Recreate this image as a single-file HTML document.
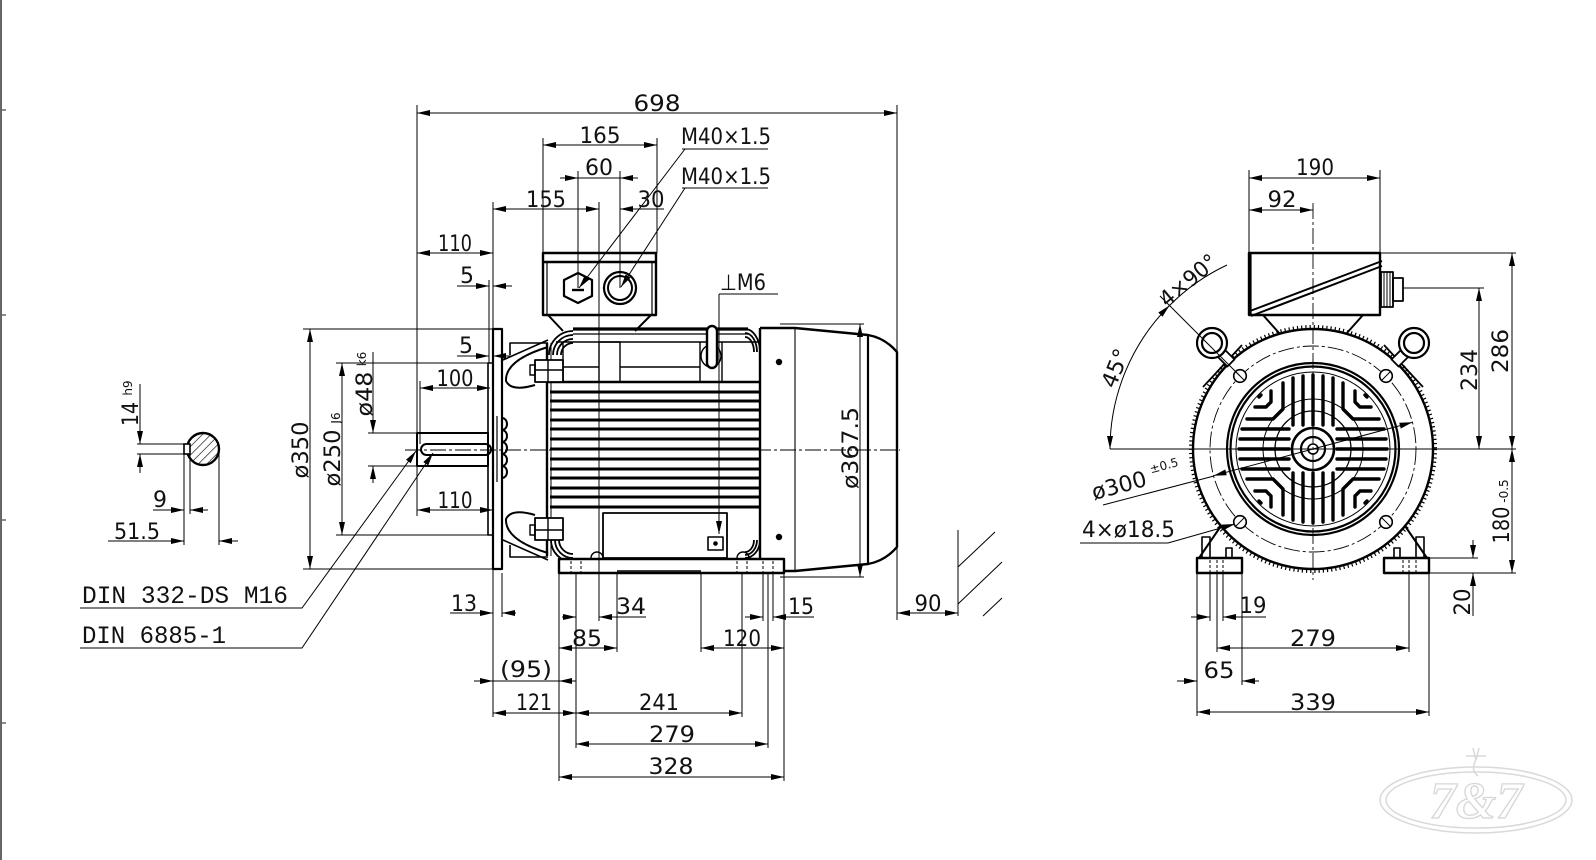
<!DOCTYPE html>
<html><head><meta charset="utf-8"><title>Motor dimension drawing</title>
<style>
html,body{margin:0;padding:0;background:#fff;width:1596px;height:860px;overflow:hidden}
svg{display:block}
text{font-family:"DejaVu Sans","Liberation Sans",sans-serif;font-size:22px;fill:#111;stroke:none}
text.c{text-anchor:middle}
.m{font-family:"Liberation Mono","DejaVu Sans Mono",monospace;font-size:25px}
.s{font-size:12px}
.b{marker-start:url(#a);marker-end:url(#a)}
.e{marker-end:url(#a)}
.cl{stroke-dasharray:16 3 3 3;stroke-width:.9}
.hd{stroke-dasharray:3 2;stroke-width:1}
</style></head><body>
<svg width="1596" height="860" viewBox="0 0 1596 860" xmlns="http://www.w3.org/2000/svg">
<defs>
<marker id="a" markerUnits="userSpaceOnUse" markerWidth="13" markerHeight="6" refX="13" refY="3" orient="auto-start-reverse" viewBox="0 0 13 6"><path d="M0,0L13,3L0,6z" fill="#000" stroke="none"/></marker>
<pattern id="h" patternUnits="userSpaceOnUse" width="6" height="6" patternTransform="rotate(45)"><line x1="0" y1="0" x2="0" y2="6" stroke="#000" stroke-width="1.3"/></pattern>
</defs>
<rect width="1596" height="860" fill="#fff"/>

<!-- page border -->
<line x1="1" y1="0" x2="1" y2="860" stroke="#666" stroke-width="2"/>
<g stroke="#666" stroke-width="1.5">
<line x1="0" y1="110" x2="6" y2="110"/><line x1="0" y1="315" x2="6" y2="315"/><line x1="0" y1="520" x2="6" y2="520"/><line x1="0" y1="723" x2="6" y2="723"/>
</g>

<!-- ================= SIDE VIEW GEOMETRY ================= -->
<g fill="none" stroke="#000" stroke-width="2" stroke-linejoin="round">
<!-- cowl -->
<path d="M760,328 L795,328 L868,335 Q885,338 897,352 L897,547 Q885,561 868,564 L795,571 L760,571" stroke-width="2.4" fill="#fff"/>
<line x1="795" y1="328" x2="795" y2="571" stroke-width="1.1"/>
<line x1="868" y1="335" x2="868" y2="564" stroke-width="2.2"/>
<line x1="760" y1="328" x2="760" y2="571" stroke-width="2.4"/>
<circle cx="779" cy="362" r="3.2" fill="#000" stroke="none"/>
<circle cx="779" cy="537" r="3.2" fill="#000" stroke="none"/>

<!-- frame top -->
<line x1="573" y1="329" x2="748" y2="329" stroke-width="3.2"/>
<line x1="573" y1="334" x2="748" y2="334" stroke-width="1.2"/>
<line x1="556" y1="342" x2="760" y2="342" stroke-width="1.6"/>
<line x1="548" y1="382" x2="760" y2="382" stroke-width="2.6"/>
<rect x="599" y="342" width="21" height="40" stroke-width="1.4"/>
<line x1="563" y1="367" x2="599" y2="367" stroke-width="1.4"/>
<line x1="620" y1="367" x2="700" y2="367" stroke-width="1.4"/>
<line x1="700" y1="342" x2="700" y2="382" stroke-width="1.4"/>
<line x1="722" y1="342" x2="722" y2="382" stroke-width="1.4"/>
<line x1="563" y1="342" x2="563" y2="382" stroke-width="1.4"/>
<!-- fins -->
<g stroke-width="3">
<line x1="550" y1="392" x2="760" y2="392"/><line x1="550" y1="401" x2="760" y2="401"/><line x1="550" y1="410" x2="760" y2="410"/>
<line x1="550" y1="420" x2="760" y2="420"/><line x1="550" y1="429" x2="760" y2="429"/><line x1="550" y1="439" x2="760" y2="439"/>
<line x1="550" y1="449" x2="760" y2="449"/><line x1="550" y1="459" x2="760" y2="459"/><line x1="550" y1="469" x2="760" y2="469"/>
<line x1="550" y1="478" x2="760" y2="478"/><line x1="550" y1="488" x2="760" y2="488"/><line x1="550" y1="497" x2="760" y2="497"/>
<line x1="550" y1="507" x2="760" y2="507"/>
</g>
<line x1="547" y1="343" x2="547" y2="556" stroke-width="2.4"/>
<line x1="551" y1="343" x2="551" y2="556" stroke-width="1"/>
<!-- corner arcs -->
<g stroke-width="1.8">
<path d="M549,355 A24,24 0 0 1 573,331"/><path d="M553,355 A20,20 0 0 1 573,335"/><path d="M557,355 A16,16 0 0 1 573,339"/><path d="M561,355 A12,12 0 0 1 573,343"/>
<path d="M551,540 A22,22 0 0 0 573,562"/><path d="M555,540 A18,18 0 0 0 573,558"/><path d="M559,540 A14,14 0 0 0 573,554"/>
<path d="M745,329 A15,23 0 0 1 760,352"/><path d="M745,333 A12,19 0 0 1 757,352"/><path d="M745,337 A9,15 0 0 1 754,352"/>
<path d="M760,540 A15,18 0 0 1 745,558"/><path d="M757,540 A12,15 0 0 1 745,555"/><path d="M754,540 A9,12 0 0 1 745,552"/>
</g>
<!-- lifting eye -->
<ellipse cx="711" cy="356" rx="10" ry="11" stroke-width="1.4"/>
<rect x="707" y="326" width="10" height="42" rx="5" stroke-width="2.4" fill="#fff"/>
<!-- lower feet block -->
<rect x="603" y="513" width="124" height="45" stroke-width="1.8"/>
<rect x="708" y="537" width="15" height="13" stroke-width="1.6"/>
<circle cx="715.5" cy="543.5" r="2.3" fill="#000" stroke="none"/>
<path d="M591,558 A6,6 0 0 1 603,558" stroke-width="1.4"/>
<path d="M737,558 A6,6 0 0 1 749,558" stroke-width="1.4"/>
<!-- end shield -->
<path d="M503,360 L548,340" stroke-width="1.6"/>
<path d="M510,355 L510,343 L548,343" stroke-width="1.6"/>
<path d="M548,347 Q505,360 506,381 Q511,392 535,385" stroke-width="2"/>
<rect x="535" y="360" width="28" height="22" stroke-width="1.8" fill="#fff"/>
<line x1="548" y1="360" x2="548" y2="382" stroke-width="1.4"/>
<line x1="535" y1="370" x2="563" y2="370" stroke-width="1.4"/>
<rect x="530" y="365" width="5" height="10" stroke-width="1.4"/>
<path d="M503,540 L548,560" stroke-width="1.6"/>
<path d="M510,545 L510,557 L548,557" stroke-width="1.6"/>
<path d="M548,553 Q505,540 506,519 Q511,508 535,515" stroke-width="2"/>
<rect x="535" y="518" width="28" height="22" stroke-width="1.8" fill="#fff"/>
<line x1="548" y1="518" x2="548" y2="540" stroke-width="1.4"/>
<line x1="535" y1="530" x2="563" y2="530" stroke-width="1.4"/>
<rect x="530" y="525" width="5" height="10" stroke-width="1.4"/>
<!-- foot -->
<rect x="559" y="559" width="225" height="14" stroke-width="2.4" fill="#fff"/>
<line x1="617" y1="571" x2="701" y2="571" stroke-width="1.4"/>
<g class="hd" stroke-width="1">
<line x1="571" y1="561" x2="571" y2="572"/><line x1="581" y1="561" x2="581" y2="572"/>
<line x1="737" y1="561" x2="737" y2="572"/><line x1="747" y1="561" x2="747" y2="572"/>
<line x1="763" y1="561" x2="763" y2="572"/><line x1="773" y1="561" x2="773" y2="572"/>
</g>
<!-- flange / spigot / bearing cap -->
<rect x="488" y="363" width="5" height="172" stroke-width="1.6"/>
<rect x="493" y="329" width="9" height="240" stroke-width="2.2" fill="#fff"/>
<path d="M502,418 a5,6 0 0 1 0,12 a5,6 0 0 1 0,12 a5,6 0 0 1 0,12 a5,6 0 0 1 0,12 a5,6 0 0 1 0,12" stroke-width="2"/>
<line x1="497" y1="416" x2="497" y2="482" stroke-width="1.2"/>
<!-- shaft -->
<rect x="417" y="433" width="71" height="33" stroke-width="2" fill="#fff"/>
<rect x="421" y="444" width="70" height="11" rx="5.5" stroke-width="2"/>
<!-- terminal box -->
<polyline points="548,315 563,331" stroke-width="2"/>
<polyline points="651,315 635,331" stroke-width="2"/>
<rect x="543" y="253" width="113" height="62" stroke-width="2.4" fill="#fff"/>
<line x1="543" y1="262" x2="656" y2="262" stroke-width="2.4"/>
<line x1="547" y1="262" x2="547" y2="315" stroke-width="1.2"/>
<line x1="652" y1="262" x2="652" y2="315" stroke-width="1.2"/>
<polygon points="578,273 592,280 592,296 578,303 564,296 564,280" stroke-width="2.2"/>
<line x1="572" y1="290" x2="584" y2="290" stroke-width="2.4"/>
<circle cx="620" cy="288" r="16" stroke-width="2.2"/>
<circle cx="620" cy="288" r="12" stroke-width="2"/>
</g>

<!-- key section -->
<g fill="none" stroke="#000">
<circle cx="203" cy="449" r="16" fill="url(#h)" stroke-width="2.4"/>
<rect x="184" y="444" width="6" height="10" fill="#fff" stroke-width="1.6"/>
</g>

<!-- ================= SIDE VIEW DIMENSIONS ================= -->
<g fill="none" stroke="#000" stroke-width="1">
<line class="cl" x1="405" y1="450" x2="900" y2="450"/>
<line x1="417" y1="105" x2="417" y2="516"/>
<line x1="897" y1="105" x2="897" y2="620"/>
<line class="b" x1="417" y1="113" x2="897" y2="113"/>
<line x1="543" y1="138" x2="543" y2="253"/>
<line x1="657" y1="138" x2="657" y2="253"/>
<line class="b" x1="543" y1="145" x2="657" y2="145"/>
<line x1="578" y1="171" x2="578" y2="288"/>
<line x1="620" y1="171" x2="620" y2="288"/>
<line class="e" x1="560" y1="178" x2="578" y2="178"/>
<line class="e" x1="638" y1="178" x2="620" y2="178"/>
<line x1="578" y1="178" x2="620" y2="178"/>
<line x1="493" y1="202" x2="493" y2="329"/>
<line x1="493" y1="569" x2="493" y2="717"/>
<line x1="599" y1="202" x2="599" y2="621"/>
<line class="b" x1="493" y1="209" x2="599" y2="209"/>
<line class="e" x1="664" y1="209" x2="620" y2="209"/>
<line class="b" x1="417" y1="253" x2="493" y2="253"/>
<line x1="489" y1="280" x2="489" y2="363"/>
<line class="e" x1="457" y1="286" x2="489" y2="286"/>
<line class="e" x1="512" y1="286" x2="493" y2="286"/>
<line x1="682" y1="149" x2="768" y2="149"/>
<line class="e" x1="685" y1="149" x2="579" y2="288"/>
<line x1="682" y1="188" x2="768" y2="188"/>
<line class="e" x1="685" y1="188" x2="621" y2="287"/>
<line x1="719" y1="294" x2="778" y2="294"/>
<line class="e" x1="719" y1="294" x2="719" y2="534"/>
<!-- left dims -->
<line x1="303" y1="329" x2="493" y2="329"/>
<line x1="303" y1="569" x2="493" y2="569"/>
<line class="b" x1="310" y1="329" x2="310" y2="569"/>
<line x1="336" y1="363" x2="489" y2="363"/>
<line x1="336" y1="535" x2="489" y2="535"/>
<line class="b" x1="342" y1="363" x2="342" y2="535"/>
<line x1="368" y1="433" x2="417" y2="433"/>
<line x1="368" y1="466" x2="417" y2="466"/>
<line class="e" x1="373" y1="352" x2="373" y2="433"/>
<line class="e" x1="373" y1="483" x2="373" y2="466"/>
<line x1="420" y1="381" x2="420" y2="444"/>
<line class="b" x1="420" y1="388" x2="490" y2="388"/>
<line class="b" x1="417" y1="510" x2="493" y2="510"/>
<line class="e" x1="457" y1="356" x2="489" y2="356"/>
<line class="e" x1="512" y1="356" x2="493" y2="356"/>
<!-- key section dims -->
<line x1="137" y1="444" x2="190" y2="444"/>
<line x1="137" y1="454" x2="190" y2="454"/>
<line class="e" x1="140" y1="384" x2="140" y2="444"/>
<line class="e" x1="140" y1="473" x2="140" y2="454"/>
<line x1="184" y1="454" x2="184" y2="545"/>
<line x1="190" y1="454" x2="190" y2="514"/>
<line x1="219" y1="452" x2="219" y2="545"/>
<line class="e" x1="153" y1="510" x2="184" y2="510"/>
<line class="e" x1="208" y1="510" x2="190" y2="510"/>
<line class="e" x1="108" y1="541" x2="184" y2="541"/>
<line class="e" x1="238" y1="541" x2="219" y2="541"/>
<!-- DIN leaders -->
<polyline class="e" points="80,608 302,608 416,451"/>
<polyline class="e" points="80,648 302,648 433,453"/>
<!-- bottom dims -->
<line x1="502" y1="573" x2="502" y2="617"/>
<line class="e" x1="450" y1="613" x2="493" y2="613"/>
<line class="e" x1="516" y1="613" x2="502" y2="613"/>
<line x1="559" y1="573" x2="559" y2="781"/>
<line x1="576" y1="573" x2="576" y2="748"/>
<line x1="617" y1="573" x2="617" y2="652"/>
<line x1="701" y1="573" x2="701" y2="652"/>
<line x1="742" y1="573" x2="742" y2="717"/>
<line x1="763" y1="573" x2="763" y2="621"/>
<line x1="768" y1="573" x2="768" y2="748"/>
<line x1="773" y1="573" x2="773" y2="621"/>
<line x1="784" y1="573" x2="784" y2="781"/>
<line class="e" x1="562" y1="617" x2="576" y2="617"/>
<line class="e" x1="646" y1="617" x2="599" y2="617"/>
<line class="e" x1="745" y1="617" x2="763" y2="617"/>
<line class="e" x1="814" y1="617" x2="773" y2="617"/>
<line class="b" x1="559" y1="648" x2="617" y2="648"/>
<line class="b" x1="701" y1="648" x2="784" y2="648"/>
<line class="e" x1="474" y1="681" x2="493" y2="681"/>
<line class="e" x1="576" y1="681" x2="559" y2="681"/>
<line x1="493" y1="681" x2="559" y2="681"/>
<line class="b" x1="493" y1="713" x2="576" y2="713"/>
<line class="b" x1="576" y1="713" x2="742" y2="713"/>
<line class="b" x1="576" y1="744" x2="768" y2="744"/>
<line class="b" x1="559" y1="777" x2="784" y2="777"/>
<!-- 90 & hatch -->
<line x1="958" y1="530" x2="958" y2="616"/>
<line class="b" x1="897" y1="613" x2="958" y2="613"/>
<line x1="958" y1="567" x2="995" y2="532"/>
<line x1="958" y1="604" x2="1002" y2="562"/>
<line x1="983" y1="616" x2="1002" y2="598"/>
<!-- 367.5 -->
<line x1="780" y1="324" x2="864" y2="324"/>
<line x1="780" y1="577" x2="864" y2="577"/>
<line class="b" x1="860" y1="324" x2="860" y2="577"/>
</g>

<!-- ================= END VIEW GEOMETRY ================= -->
<g fill="none" stroke="#000" stroke-width="2" stroke-linejoin="round">
<!-- neck -->
<line x1="1263" y1="315" x2="1280" y2="334"/>
<line x1="1363" y1="315" x2="1346" y2="334"/>
<!-- lugs -->
<line x1="1203" y1="387" x2="1242" y2="345" stroke-width="1.8"/>
<line x1="1423" y1="387" x2="1384" y2="345" stroke-width="1.8"/>
<!-- feet supports -->
<line x1="1199" y1="558" x2="1223" y2="523"/>
<rect x="1202" y="537" width="8" height="21" stroke-width="1.6"/>
<rect x="1226" y="548" width="6" height="10" stroke-width="1.6"/>
<line x1="1427" y1="558" x2="1403" y2="523"/>
<rect x="1416" y="537" width="8" height="21" stroke-width="1.6"/>
<rect x="1394" y="548" width="6" height="10" stroke-width="1.6"/>
<!-- body -->
<circle cx="1313" cy="449" r="122" stroke-width="4" stroke-dasharray="1.2 3"/>
<circle cx="1313" cy="449" r="120" stroke-width="2.4" fill="#fff"/>
<circle cx="1313" cy="449" r="103" class="cl" stroke-dasharray="12 3 2 3"/>
<g stroke-width="1.6" fill="#fff">
<circle cx="1240" cy="376" r="6.3"/><circle cx="1386" cy="376" r="6.3"/><circle cx="1240" cy="522" r="6.3"/><circle cx="1386" cy="522" r="6.3"/>
</g>
<g stroke-width="1">
<line x1="1236" y1="372" x2="1244" y2="380"/><line x1="1390" y1="372" x2="1382" y2="380"/><line x1="1236" y1="526" x2="1244" y2="518"/><line x1="1390" y1="526" x2="1382" y2="518"/>
</g>
<circle cx="1313" cy="449" r="86" stroke-width="2.2"/>
<circle cx="1313" cy="449" r="82.5" stroke-width="2.2"/>
<circle cx="1313" cy="449" r="77" stroke-width="1"/>
<circle cx="1313" cy="449" r="50" stroke-width="1"/>
<circle cx="1313" cy="449" r="38" stroke-width="1.3"/>
<!-- grille bars -->
<g stroke-width="3.4" stroke-linecap="round">
<line x1="1293" y1="378" x2="1293" y2="425"/><line x1="1303" y1="376" x2="1303" y2="425"/><line x1="1313" y1="375" x2="1313" y2="425"/><line x1="1323" y1="376" x2="1323" y2="425"/><line x1="1333" y1="378" x2="1333" y2="425"/>
<line x1="1293" y1="473" x2="1293" y2="520"/><line x1="1303" y1="473" x2="1303" y2="522"/><line x1="1313" y1="473" x2="1313" y2="523"/><line x1="1323" y1="473" x2="1323" y2="522"/><line x1="1333" y1="473" x2="1333" y2="520"/>
<line x1="1242" y1="429" x2="1289" y2="429"/><line x1="1240" y1="439" x2="1289" y2="439"/><line x1="1239" y1="449" x2="1289" y2="449"/><line x1="1240" y1="459" x2="1289" y2="459"/><line x1="1242" y1="469" x2="1289" y2="469"/>
<line x1="1337" y1="429" x2="1384" y2="429"/><line x1="1337" y1="439" x2="1386" y2="439"/><line x1="1337" y1="449" x2="1387" y2="449"/><line x1="1337" y1="459" x2="1386" y2="459"/><line x1="1337" y1="469" x2="1384" y2="469"/>
<polyline points="1247,419 1273,419 1283,409 1283,383"/>
<polyline points="1379,419 1353,419 1343,409 1343,383"/>
<polyline points="1247,479 1273,479 1283,489 1283,515"/>
<polyline points="1379,479 1353,479 1343,489 1343,515"/>
<polyline points="1255,407 1266,407 1271,402 1271,391"/>
<polyline points="1371,407 1360,407 1355,402 1355,391"/>
<polyline points="1255,491 1266,491 1271,496 1271,507"/>
<polyline points="1371,491 1360,491 1355,496 1355,507"/>
<line x1="1259" y1="397" x2="1261" y2="395"/><line x1="1367" y1="397" x2="1365" y2="395"/>
<line x1="1259" y1="501" x2="1261" y2="503"/><line x1="1367" y1="501" x2="1365" y2="503"/>
</g>
<!-- hub -->
<circle cx="1313" cy="449" r="21" stroke-width="2.6" fill="#fff"/>
<circle cx="1313" cy="449" r="12" stroke-width="2.2"/>
<circle cx="1313" cy="449" r="5" stroke-width="1.6"/>
<!-- lifting eyes -->
<rect x="-7" y="-5" width="14" height="10" transform="translate(1226,358) rotate(45)" stroke-width="1.8" fill="#fff"/>
<rect x="-7" y="-5" width="14" height="10" transform="translate(1400,358) rotate(-45)" stroke-width="1.8" fill="#fff"/>
<circle cx="1212" cy="343" r="15" stroke-width="2.2" fill="#fff"/>
<circle cx="1212" cy="343" r="10" stroke-width="2.2"/>
<circle cx="1414" cy="343" r="15" stroke-width="2.2" fill="#fff"/>
<circle cx="1414" cy="343" r="10" stroke-width="2.2"/>
<!-- feet blocks -->
<rect x="1197" y="558" width="45" height="15" stroke-width="2.4" fill="#fff"/>
<rect x="1384" y="558" width="45" height="15" stroke-width="2.4" fill="#fff"/>
<g class="hd">
<line x1="1210" y1="560" x2="1210" y2="572"/><line x1="1217" y1="560" x2="1217" y2="572"/><line x1="1223" y1="560" x2="1223" y2="572"/>
<line x1="1403" y1="560" x2="1403" y2="572"/><line x1="1409" y1="560" x2="1409" y2="572"/><line x1="1416" y1="560" x2="1416" y2="572"/>
</g>
<!-- terminal box -->
<rect x="1249" y="253" width="131" height="62" stroke-width="2.4" fill="#fff"/>
<line x1="1250" y1="253" x2="1250" y2="315" stroke-width="3.2"/>
<line x1="1250" y1="311" x2="1382" y2="261" stroke-width="2"/>
<line x1="1251" y1="316" x2="1382" y2="266" stroke-width="2"/>
<rect x="1381" y="272" width="12" height="35" stroke-width="1.8"/>
<line x1="1384" y1="272" x2="1384" y2="307" stroke-width="1"/><line x1="1387" y1="272" x2="1387" y2="307" stroke-width="1"/><line x1="1390" y1="272" x2="1390" y2="307" stroke-width="1"/>
<rect x="1393" y="278" width="10" height="23" stroke-width="1.8"/>
</g>

<!-- ================= END VIEW DIMENSIONS ================= -->
<g fill="none" stroke="#000" stroke-width="1">
<line class="cl" x1="1313" y1="203" x2="1313" y2="580"/>
<line x1="1110" y1="449" x2="1516" y2="449"/>
<line x1="1249" y1="170" x2="1249" y2="253"/>
<line x1="1380" y1="170" x2="1380" y2="253"/>
<line class="b" x1="1249" y1="178" x2="1380" y2="178"/>
<line class="b" x1="1249" y1="210" x2="1313" y2="210"/>
<line x1="1380" y1="253" x2="1516" y2="253"/>
<line x1="1403" y1="288" x2="1484" y2="288"/>
<line class="b" x1="1512" y1="253" x2="1512" y2="449"/>
<line class="b" x1="1479" y1="288" x2="1479" y2="449"/>
<line class="b" x1="1512" y1="449" x2="1512" y2="573"/>
<line x1="1430" y1="558" x2="1478" y2="558"/>
<line x1="1430" y1="573" x2="1516" y2="573"/>
<line class="e" x1="1473" y1="540" x2="1473" y2="558"/>
<line class="e" x1="1473" y1="616" x2="1473" y2="573"/>
<!-- feet dims -->
<line x1="1197" y1="573" x2="1197" y2="716"/>
<line x1="1210" y1="573" x2="1210" y2="621"/>
<line x1="1217" y1="573" x2="1217" y2="652"/>
<line x1="1223" y1="573" x2="1223" y2="621"/>
<line x1="1242" y1="573" x2="1242" y2="685"/>
<line x1="1409" y1="573" x2="1409" y2="652"/>
<line x1="1429" y1="573" x2="1429" y2="716"/>
<line class="e" x1="1191" y1="617" x2="1210" y2="617"/>
<line class="e" x1="1266" y1="617" x2="1223" y2="617"/>
<line class="b" x1="1217" y1="648" x2="1409" y2="648"/>
<line class="e" x1="1177" y1="681" x2="1197" y2="681"/>
<line class="e" x1="1259" y1="681" x2="1242" y2="681"/>
<line class="b" x1="1197" y1="712" x2="1429" y2="712"/>
<!-- angle -->
<path class="b" d="M1169.5,305.5 A203,203 0 0 0 1110,449"/>
<path d="M1227,265 A203,203 0 0 0 1169.5,305.5"/>
<line x1="1160" y1="296" x2="1240" y2="376"/>
<!-- 300 -->
<line x1="1103" y1="505" x2="1214" y2="476"/>
<line class="e" x1="1313" y1="449" x2="1213.5" y2="475.7"/>
<line class="e" x1="1313" y1="449" x2="1412.5" y2="422.3"/>
<!-- 4x18.5 -->
<polyline class="e" points="1080,543 1168,543 1235,524"/>
</g>

<!-- ================= TEXT ================= -->
<g>
<text class="c" x="657" y="111" textLength="47" lengthAdjust="spacingAndGlyphs">698</text>
<text class="c" x="600" y="143" textLength="41" lengthAdjust="spacingAndGlyphs">165</text>
<text class="c" x="599" y="175" textLength="28" lengthAdjust="spacingAndGlyphs">60</text>
<text class="c" x="546" y="207" textLength="40" lengthAdjust="spacingAndGlyphs">155</text>
<text class="c" x="651" y="207" textLength="27" lengthAdjust="spacingAndGlyphs">30</text>
<text class="c" x="455" y="251" textLength="34" lengthAdjust="spacingAndGlyphs">110</text>
<text class="c" x="467" y="283">5</text>
<text x="681" y="144" textLength="90" lengthAdjust="spacingAndGlyphs">M40×1.5</text>
<text x="681" y="184" textLength="90" lengthAdjust="spacingAndGlyphs">M40×1.5</text>
<text x="720" y="290" textLength="46" lengthAdjust="spacingAndGlyphs">⊥M6</text>
<text class="c" x="466" y="353">5</text>
<text class="c" x="455" y="386" textLength="37" lengthAdjust="spacingAndGlyphs">100</text>
<text class="c" x="455" y="508" textLength="35" lengthAdjust="spacingAndGlyphs">110</text>
<text class="c" x="308" y="450" transform="rotate(-90 308 450)" textLength="57" lengthAdjust="spacingAndGlyphs">ø350</text>
<text class="c" x="340" y="458" transform="rotate(-90 340 458)" textLength="57" lengthAdjust="spacingAndGlyphs">ø250</text>
<text class="c s" x="340" y="418" transform="rotate(-90 340 418)">J6</text>
<text class="c" x="372" y="394" transform="rotate(-90 372 394)" textLength="45" lengthAdjust="spacingAndGlyphs">ø48</text>
<text class="c s" x="366" y="359" transform="rotate(-90 366 359)">k6</text>
<text class="c" x="138" y="414" transform="rotate(-90 138 414)" textLength="24" lengthAdjust="spacingAndGlyphs">14</text>
<text class="c s" x="132" y="388" transform="rotate(-90 132 388)">h9</text>
<text class="c" x="160" y="507">9</text>
<text class="c" x="137" y="539" textLength="46" lengthAdjust="spacingAndGlyphs">51.5</text>
<text class="m" x="82" y="603" textLength="206" lengthAdjust="spacingAndGlyphs">DIN 332-DS M16</text>
<text class="m" x="82" y="643" textLength="144" lengthAdjust="spacingAndGlyphs">DIN 6885-1</text>
<text class="c" x="464" y="611" textLength="26" lengthAdjust="spacingAndGlyphs">13</text>
<text class="c" x="631" y="614" textLength="30" lengthAdjust="spacingAndGlyphs">34</text>
<text class="c" x="801" y="614" textLength="26" lengthAdjust="spacingAndGlyphs">15</text>
<text class="c" x="587" y="646" textLength="30" lengthAdjust="spacingAndGlyphs">85</text>
<text class="c" x="742" y="646" textLength="38" lengthAdjust="spacingAndGlyphs">120</text>
<text class="c" x="526" y="677" textLength="52" lengthAdjust="spacingAndGlyphs">(95)</text>
<text class="c" x="534" y="710" textLength="36" lengthAdjust="spacingAndGlyphs">121</text>
<text class="c" x="659" y="710" textLength="40" lengthAdjust="spacingAndGlyphs">241</text>
<text class="c" x="672" y="742" textLength="46" lengthAdjust="spacingAndGlyphs">279</text>
<text class="c" x="671" y="774" textLength="45" lengthAdjust="spacingAndGlyphs">328</text>
<text class="c" x="928" y="611" textLength="27" lengthAdjust="spacingAndGlyphs">90</text>
<text class="c" x="858" y="448" transform="rotate(-90 858 448)" textLength="82" lengthAdjust="spacingAndGlyphs">ø367.5</text>

<text class="c" x="1315" y="175" textLength="38" lengthAdjust="spacingAndGlyphs">190</text>
<text class="c" x="1282" y="207" textLength="29" lengthAdjust="spacingAndGlyphs">92</text>
<text class="c" x="1477" y="370" transform="rotate(-90 1477 370)" textLength="42" lengthAdjust="spacingAndGlyphs">234</text>
<text class="c" x="1508" y="351" transform="rotate(-90 1508 351)" textLength="44" lengthAdjust="spacingAndGlyphs">286</text>
<text class="c" x="1509" y="525" transform="rotate(-90 1509 525)" textLength="37" lengthAdjust="spacingAndGlyphs">180</text>
<text class="c s" x="1508" y="491" transform="rotate(-90 1508 491)">-0.5</text>
<text class="c" x="1470" y="602" transform="rotate(-90 1470 602)" textLength="27" lengthAdjust="spacingAndGlyphs">20</text>
<text class="c" x="1253" y="613" textLength="27" lengthAdjust="spacingAndGlyphs">19</text>
<text class="c" x="1313" y="646" textLength="46" lengthAdjust="spacingAndGlyphs">279</text>
<text class="c" x="1219" y="678" textLength="31" lengthAdjust="spacingAndGlyphs">65</text>
<text class="c" x="1313" y="710" textLength="46" lengthAdjust="spacingAndGlyphs">339</text>
<text class="c" transform="translate(1115,368) rotate(-68)" x="0" y="8" textLength="40" lengthAdjust="spacingAndGlyphs">45°</text>
<text class="c" transform="translate(1188,280) rotate(-40)" x="0" y="8" textLength="68" lengthAdjust="spacingAndGlyphs">4×90°</text>
<text transform="translate(1094,500) rotate(-15)" x="0" y="0" textLength="56" lengthAdjust="spacingAndGlyphs">ø300</text>
<text class="s" transform="translate(1094,500) rotate(-15)" x="62" y="-11">±0.5</text>
<text x="1082" y="537" textLength="93" lengthAdjust="spacingAndGlyphs">4×ø18.5</text>
</g>

<!-- watermark -->
<g fill="none" stroke="#d9d9d9" stroke-width="1.5">
<ellipse cx="1476" cy="800" rx="96" ry="33"/>
<ellipse cx="1476" cy="800" rx="90" ry="28"/>
<path d="M1473,748 L1476,760 L1479,748 M1466,756 L1486,756 M1476,760 Q1470,770 1478,776"/>
<text x="1476" y="818" text-anchor="middle" style="font-family:'Liberation Serif',serif;font-size:52px;font-style:italic;font-weight:bold;fill:none;stroke:#d6d6d6;stroke-width:1.3">7&amp;7</text>
</g>
</svg>
</body></html>
